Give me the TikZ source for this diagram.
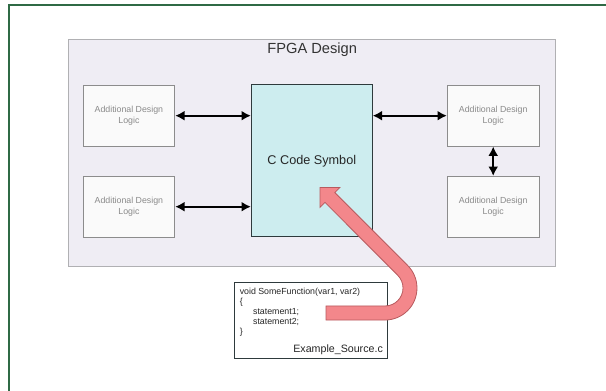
\documentclass[tikz,border=0pt]{standalone}
\usepackage{fontspec}
\setmainfont{Liberation Sans}
\usepackage{xcolor}
\usetikzlibrary{arrows.meta, positioning}
\definecolor{framegreen}{HTML}{2F6A45}
\definecolor{fpgafill}{HTML}{EFEDF4}
\definecolor{fpgadraw}{HTML}{B0B0B3}
\definecolor{logicfill}{HTML}{FAFAFA}
\definecolor{logicdraw}{HTML}{8C8C8C}
\definecolor{logictext}{HTML}{8A8A8A}
\definecolor{symfill}{HTML}{CDEDEF}
\definecolor{symdraw}{HTML}{2E3A3C}
\definecolor{uturnfill}{HTML}{F3878B}
\definecolor{uturndraw}{HTML}{B85A5E}

\begin{document}
\begin{tikzpicture}[
    x=0.75pt, y=-0.75pt,
    box/.style={draw, inner sep=0pt, line width=0.7pt},
    fpga/.style={box, fill=fpgafill, draw=fpgadraw, minimum width=365pt, minimum height=170pt},
    logic/.style={box, fill=logicfill, draw=logicdraw, minimum width=68.8pt, minimum height=45.5pt, align=center, text=logictext, font=\fontsize{6.6}{8}\selectfont},
    csym/.style={box, fill=symfill, draw=symdraw, minimum width=90.7pt, minimum height=113.8pt, text=black!85, font=\fontsize{9.5}{11}\selectfont},
    src/.style={box, fill=white, draw=symdraw, minimum width=114.5pt, minimum height=57pt},
    title/.style={inner sep=0pt, text=black!80, font=\fontsize{11}{13}\selectfont},
    code/.style={inner sep=0pt, align=left, text=black!85, font=\fontsize{6.6}{7.5}\selectfont},
    link/.style={<->, >={Latex[length=7pt, width=7.5pt]}, line width=1.6pt},
    uturn/.style={fill=uturnfill, draw=uturndraw, line width=0.6pt},
]
\useasboundingbox (0,0) rectangle (606,391);

% Page frame
\draw[framegreen, line width=1.2pt] (9,391) -- (9,5) -- (606,5);

% FPGA design area
\node[fpga] (fpga) at (312.2,153.3) {};
\node[title] (fpgatitle) at ([yshift=-8pt]fpga.north) {FPGA Design};

% Additional design logic blocks
\node[logic] (lt) at (128.9,115.7) {Additional Design\\Logic};
\node[logic] (lb) at (128.9,206.7) {Additional Design\\Logic};
\node[logic] (rt) at (493.2,115.7) {Additional Design\\Logic};
\node[logic] (rb) at (493.2,206.7) {Additional Design\\Logic};

% C code symbol
\node[csym] (csym) at (311.8,160.8) {C Code Symbol};

% Source file
\node[src] (src) at (311,320.7) {};
\node[code, anchor=north west] (srccode) at ([xshift=4pt, yshift=-4.5pt]src.north west)
    {void SomeFunction(var1, var2)\\\{\\\hspace*{10pt}statement1;\\\hspace*{10pt}statement2;\\\}};
\node[inner sep=0pt, text=black!85, font=\fontsize{8}{10}\selectfont, anchor=base east] (srcname)
    at ([xshift=-3.5pt, yshift=5.3pt]src.south east) {Example\_Source.c};

% Arrows
\draw[link] (lt.east) -- (lt.east -| csym.west);
\draw[link] (lb.east) -- (lb.east -| csym.west);
\draw[link] (rt.west -| csym.east) -- (rt.west);
\draw[link] (rt.south) -- (rb.north);

% U-turn arrow from source to symbol
\filldraw[uturn] (326,306) -- (385,306) arc[start angle=90, end angle=-45, radius=18]
    -- (325,202.4) -- (320,207.4) -- (320,187.6) -- (339.8,187.6) -- (334.85,192.55)
    -- (407.6,265.4) arc[start angle=-45, end angle=90, radius=32] -- (326,320) -- cycle;

\end{tikzpicture}
\end{document}
